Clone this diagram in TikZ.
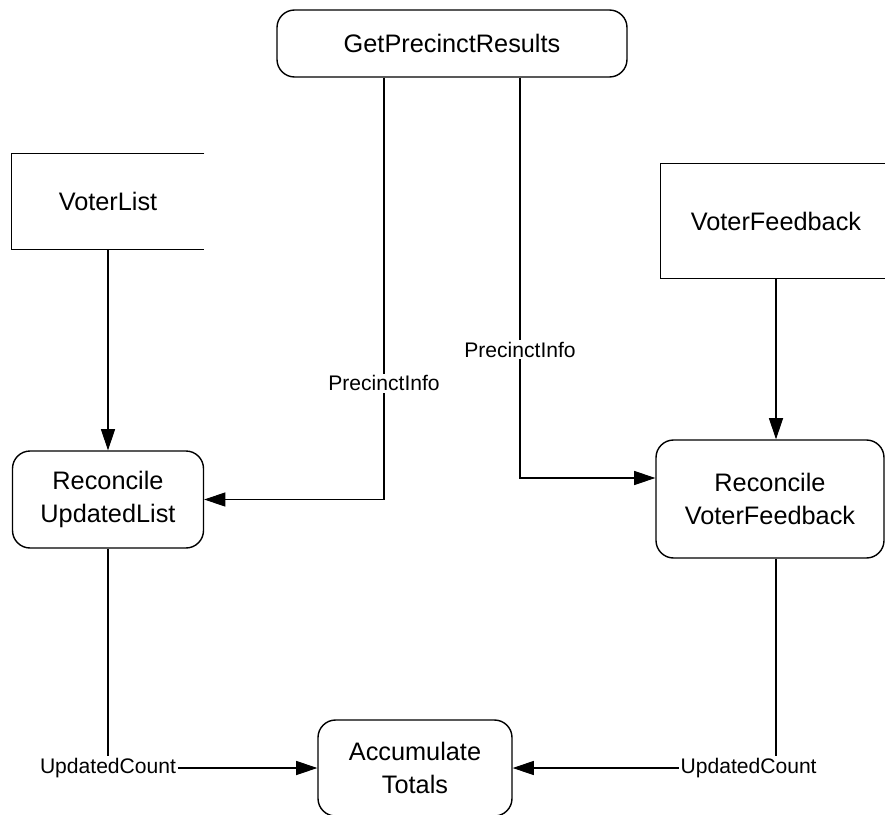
\documentclass[tikz,border=0pt]{standalone}
\usepackage{fontspec}
\setmainfont{Liberation Sans}
\usetikzlibrary{positioning,arrows.meta}

\begin{document}
\begin{tikzpicture}[
  font=\fontsize{14.4}{18.7}\selectfont,
  proc/.style={draw, line width=0.8pt, rounded corners=10pt, align=center, inner sep=2pt},
  store/.style={align=center, inner sep=2pt},
  arr/.style={-{Triangle[length=12pt, width=8pt]}, line width=0.6pt},
  lab/.style={font=\fontsize{12}{14}\selectfont, fill=white, inner sep=1pt}]
\useasboundingbox (0,0) rectangle (17.7,-16.28);
% ---- processes ----
\node[proc, minimum width=7cm, minimum height=1.34cm] (gpr) at (9.04,-0.87) {GetPrecinctResults};
\node[proc, minimum width=3.82cm, minimum height=1.94cm] (rul) at (2.16,-9.99) {Reconcile\\UpdatedList};
\node[proc, minimum width=4.56cm, minimum height=2.36cm] (rvf) at (15.4,-9.98) {Reconcile\\VoterFeedback};
\node[proc, minimum width=3.88cm, minimum height=1.92cm] (at) at (8.3,-15.36) {Accumulate\\Totals};
% ---- data stores (open on the right) ----
\node[store, minimum width=3.84cm, minimum height=1.9cm] (vl) at (2.16,-4.03) {VoterList};
\draw[line width=0.8pt] (vl.north east) -- (vl.north west) -- (vl.south west) -- (vl.south east);
\node[store, minimum width=4.6cm, minimum height=2.28cm] (vf) at (15.52,-4.42) {VoterFeedback};
\draw[line width=0.8pt] (vf.north east) -- (vf.north west) -- (vf.south west) -- (vf.south east);
% ---- flows ----
\draw[arr] (vl.south) -- (rul.north);
\draw[arr] (vf.south) -- (vf.south |- rvf.north);
\draw[arr] ([xshift=-1.36cm]gpr.south) |- node[lab, pos=0.362] {PrecinctInfo} (rul.east);
\draw[arr] ([xshift=1.36cm]gpr.south) |- node[lab, pos=0.34] {PrecinctInfo} ([yshift=0.42cm]rvf.west);
\draw[arr] (rul.south) |- node[lab, pos=0.5] {UpdatedCount} (at.west);
\draw[arr] (vf.south |- rvf.south) |- node[lab, pos=0.552] {UpdatedCount} (at.east);
\end{tikzpicture}
\end{document}
